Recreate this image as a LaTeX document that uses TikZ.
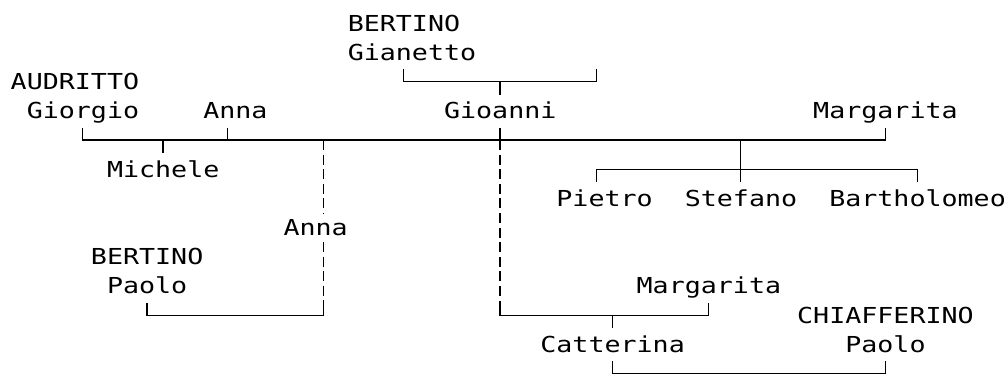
\documentclass[tikz,border=0pt]{standalone}
\usepackage{fontspec}
\newfontfamily\treefont{DejaVu Sans Mono}[FakeStretch=1.212]

\begin{document}
\begin{tikzpicture}[
  x=16.05pt, y=-29.2pt,
  person/.style={font=\treefont\fontsize{22pt}{26pt}\selectfont,
    anchor=base west, inner xsep=0pt, inner ysep=6pt},
  link/.style={line width=1.3pt},
  descent/.style={link, dash pattern=on 10pt off 4.6pt}
]
\useasboundingbox (0pt,0pt) rectangle (1008pt,-375pt);
\begin{scope}[shift={(10.5pt,-31pt)}]
% names, column/row of the first letter
\foreach \name/\col/\row/\text in {
  bertinoA/21/0/BERTINO, gianetto/21/1/Gianetto,
  audritto/0/2/AUDRITTO, giorgio/1/3/Giorgio, annaA/12/3/Anna,
  gioanni/27/3/Gioanni, margaritaA/50/3/Margarita,
  michele/6/5/Michele,
  pietro/34/6/Pietro, stefano/42/6/Stefano, bartholomeo/51/6/Bartholomeo,
  annaB/17/7/Anna, bertinoB/5/8/BERTINO, paoloA/6/9/Paolo,
  margaritaB/39/9/Margarita, chiafferino/49/10/CHIAFFERINO,
  catterina/33/11/Catterina, paoloB/52/11/Paolo
} {
  \node[person, at={(\col,\row)}] (\name) {\text};
}

% junctions
\foreach \c/\x/\y in {
  gL/24.5/1.31, gR/36.5/1.31, gB/30.5/1.736, gS/30.5/2.18,
  mL/4.5/3.31, mR/54.5/3.31, mA/13.5/3.31, mG/30.5/3.31,
  jA/13.5/3.736, jG/30.5/3.736, jM/9.5/3.736, jC/19.5/3.736, jS/45.5/3.736,
  mS/9.5/4.18,
  sL/36.5/5.18, sR/56.5/5.18, sB/45.5/4.736, sS/45.5/5.18,
  pL/8.5/9.31, pT/19.5/9.31, pB/19.5/9.736,
  cT/30.5/9.31, cR/43.5/9.31, cB/37.5/9.736, cS/37.5/10.18,
  bL/37.5/11.31, bR/54.5/11.31, bB/54.5/11.736
} {
  \coordinate (\c) at (\x,\y);
}

% Gianetto's bracket to Gioanni
\draw[link] (gL) |- (gB) -| (gR);
\draw[link] (gB) -- (gS);

% main line
\draw[link] (mL) |- (jS) -| (mR);
\draw[link] (mA) -- (jA);
\draw[link] (mG) -- (jG);
\draw[link] (jM) -- (mS);

% Stefano and brothers
\draw[link] (jS) -- (sS);
\draw[link] (sL) |- (sB) -| (sR);

% Anna with BERTINO Paolo
\draw[descent] (jC) -- (jC |- annaB.north);
\draw[descent] (jC |- annaB.south) -- (pT);
\draw[link] (pL) |- (pB) -- (pT);

% Gioanni with Margarita, Catterina
\draw[descent] (jG) -- (cT);
\draw[link] (cT) |- (cB) -| (cR);
\draw[link] (cB) -- (cS);

% Catterina with CHIAFFERINO Paolo
\draw[link] (bL) |- (bB) -- (bR);
\end{scope}
\end{tikzpicture}
\end{document}
